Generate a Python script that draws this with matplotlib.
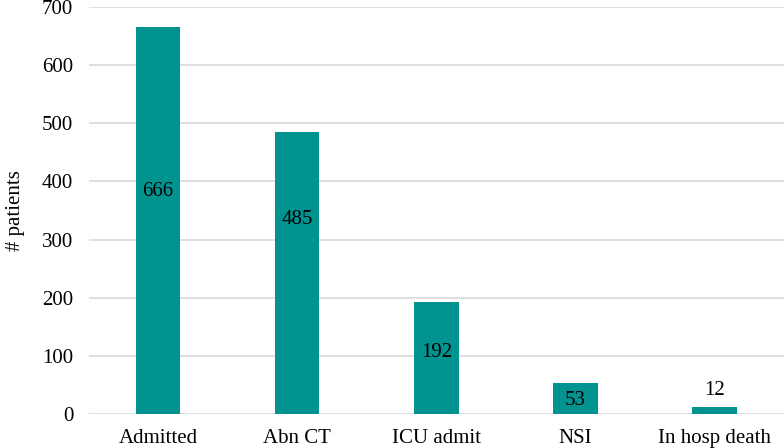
import matplotlib
matplotlib.use('Agg')
import matplotlib.pyplot as plt
import numpy as np

# chart data
categories = ['Admitted', 'Abn CT', 'ICU admit', 'NSI', 'In hosp death']
patients = [666, 485, 192, 53, 12]
# where the value labels sit (in data units)
label_y = [383, 335, 105, 23, 41]

bar_color = '#00938F'
grid_color = '#D9D9D9'

plt.rcParams['font.family'] = ['Liberation Serif', 'DejaVu Serif']

fig = plt.figure(figsize=(7.84, 4.48), dpi=100)
ax = fig.add_axes([88.5 / 784, 34 / 448, (784 - 88.5) / 784, 407 / 448])

x = np.arange(len(categories))
ax.bar(x, patients, width=0.32, color=bar_color, zorder=3)

for xi, yi, val in zip(x, label_y, patients):
    ax.text(xi, yi, str(val), ha='center', va='center', fontsize=15, color='black', zorder=4)

ax.set_xlim(-0.5, len(categories) - 0.5)
ax.set_ylim(0, 700)
ax.set_yticks(np.arange(0, 701, 100))
ax.set_xticks(x)
ax.set_xticklabels(categories)

ax.grid(axis='y', color=grid_color, linewidth=1.2, zorder=0)
for side in ['top', 'right', 'left', 'bottom']:
    ax.spines[side].set_visible(False)
ax.tick_params(axis='both', length=0, labelsize=15)
ax.tick_params(axis='y', pad=11)
ax.tick_params(axis='x', pad=11)
ax.set_ylabel('# patients', fontsize=15, labelpad=12)

fig.savefig('out.png', dpi=100)
